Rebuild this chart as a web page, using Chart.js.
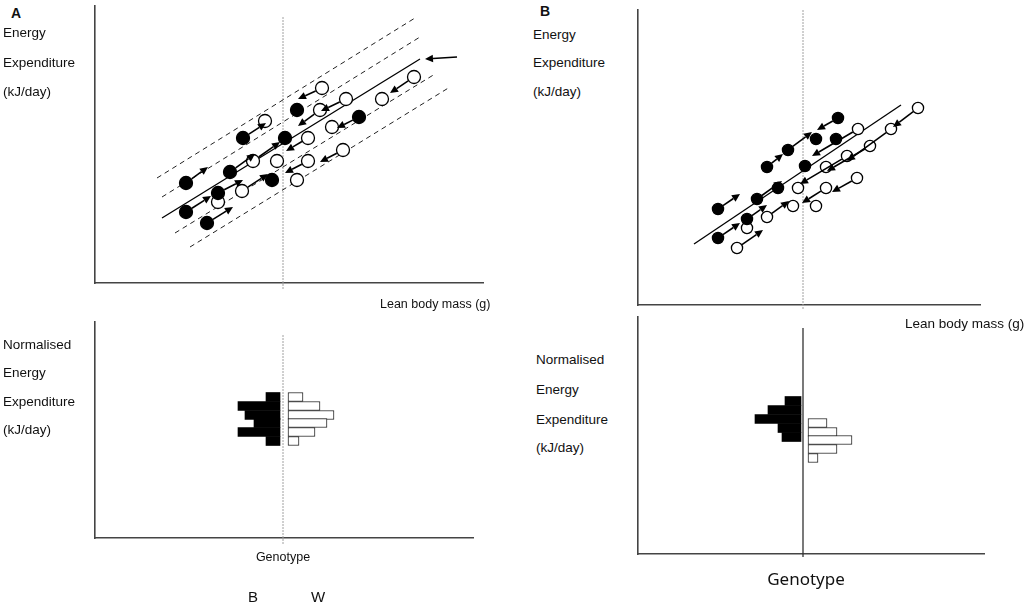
<!DOCTYPE html>
<html>
<head>
<meta charset="utf-8">
<script src="https://cdn.jsdelivr.net/npm/chart.js@4.4.0/dist/chart.umd.min.js"></script>
<style>
  body { margin: 0; background: #fff; }
  #page { position: relative; width: 1028px; height: 606px; overflow: hidden; font-family: "Liberation Sans", Arial, sans-serif; color: #111; }
  canvas { position: absolute; }
  .t { position: absolute; font-size: 13.5px; line-height: 1; white-space: nowrap; }
  .big { font-weight: bold; font-size: 14px; }
  .c { transform: translateX(-50%); }
</style>
</head>
<body>
<div id="page">
  <canvas id="aTop"></canvas>
  <canvas id="aBot"></canvas>
  <canvas id="bTop"></canvas>
  <canvas id="bBot"></canvas>

  <div class="t big" style="left:11px; top:6px;">A</div>
  <div class="t" style="left:3px; top:26px;">Energy</div>
  <div class="t" style="left:3px; top:56px;">Expenditure</div>
  <div class="t" style="left:3px; top:85px;">(kJ/day)</div>
  <div class="t" style="left:380px; top:298px; font-size:12.5px;">Lean body mass (g)</div>
  <div class="t" style="left:3px; top:338px;">Normalised</div>
  <div class="t" style="left:3px; top:366px;">Energy</div>
  <div class="t" style="left:3px; top:395px;">Expenditure</div>
  <div class="t" style="left:3px; top:423px;">(kJ/day)</div>
  <div class="t c" style="left:283px; top:551px; font-size:12.5px;">Genotype</div>
  <div class="t c" style="left:253px; top:589px; font-size:15px;">B</div>
  <div class="t c" style="left:318px; top:589px; font-size:15px;">W</div>

  <div class="t big" style="left:540px; top:4px;">B</div>
  <div class="t" style="left:533px; top:28px;">Energy</div>
  <div class="t" style="left:533px; top:56px;">Expenditure</div>
  <div class="t" style="left:533px; top:85px;">(kJ/day)</div>
  <div class="t" style="left:905px; top:317px;">Lean body mass (g)</div>
  <div class="t" style="left:536px; top:353px;">Normalised</div>
  <div class="t" style="left:536px; top:383px;">Energy</div>
  <div class="t" style="left:536px; top:413px;">Expenditure</div>
  <div class="t" style="left:536px; top:441px;">(kJ/day)</div>
  <div class="t c" style="left:806px; top:570px; font-family:'Noto Sans', sans-serif; font-size:17px;">Genotype</div>
</div>

<script>
// ---- panel A: energy expenditure vs lean body mass ----
const blackA_x = [9.1, 9.1, 11.2, 12.3, 13.5, 14.8, 17.7, 19.0, 20.2, 26.4];
const blackA_y = [10.0, 7.1, 6.0, 9.0, 11.1, 14.5, 10.3, 14.5, 17.3, 16.6];
const whiteA_x = [17.0, 22.7, 22.5, 25.1, 28.7, 31.9, 23.7, 21.3, 15.8, 18.2, 21.3, 24.8, 20.2, 14.7, 12.3];
const whiteA_y = [16.2, 19.5, 17.3, 18.4, 18.4, 20.6, 15.6, 14.5, 12.2, 12.2, 12.2, 13.3, 10.3, 9.2, 8.1];
const fitA = [[6.7, 6.5], [32.5, 22.4]];
const bandsA = [
  [[6.2, 10.5], [32.0, 26.5]],
  [[6.7, 8.6], [32.5, 24.6]],
  [[8.0, 5.0], [34.0, 20.9]],
  [[9.5, 3.6], [35.5, 19.6]]
];
const arrowsA = [
  [9.1, 10.0, 11.3, 11.6], [9.1, 7.1, 11.6, 8.7], [11.2, 6.0, 13.8, 7.6],
  [12.3, 9.0, 14.8, 10.3], [13.5, 11.1, 16.0, 12.9], [14.8, 14.5, 17.1, 16.0],
  [15.8, 12.2, 18.5, 14.1], [14.7, 9.2, 17.3, 10.9],
  [22.7, 19.5, 20.3, 18.4], [25.1, 18.4, 22.6, 17.2], [22.5, 17.3, 20.3, 15.7],
  [26.4, 16.6, 24.2, 15.5], [31.9, 20.6, 29.5, 19.0], [21.3, 14.5, 19.1, 13.2],
  [24.8, 13.3, 22.5, 12.1], [21.3, 12.2, 19.0, 11.0]
];
const pointerA = [[36.2, 22.6, 33.0, 22.4]];
const genotypeA = 18.8;

// panel A histogram (normalised EE by genotype)
const binsA = [14.1, 13.2, 12.3, 11.5, 10.6, 9.7];
const blackA_from = [17.1, 14.3, 15.0, 15.9, 14.3, 17.1];
const whiteA_to = [20.8, 22.5, 23.9, 23.2, 22.0, 20.4];
const blackA_edge = 18.5, whiteA_edge = 19.3;

// ---- panel B ----
const blackB_x = [8.0, 8.0, 10.9, 11.9, 14.0, 12.9, 15.0, 16.7, 17.8, 19.8, 20.0];
const blackB_y = [9.6, 6.7, 8.6, 10.6, 11.7, 13.8, 15.5, 13.9, 16.6, 16.6, 18.7];
const whiteB_x = [9.9, 10.9, 12.9, 15.5, 17.8, 16.0, 18.8, 21.9, 18.8, 20.9, 23.2, 25.3, 22.0, 28.0];
const whiteB_y = [5.7, 7.7, 8.8, 9.9, 9.9, 11.7, 11.7, 12.7, 13.8, 14.9, 15.9, 17.6, 17.6, 19.7];
const fitB = [[5.6, 6.1], [26.3, 20.0]];
const arrowsB = [
  [8.0, 9.6, 10.2, 11.1], [8.0, 6.7, 10.2, 8.2], [9.9, 5.7, 12.5, 7.5],
  [10.9, 8.6, 12.9, 10.0], [11.9, 10.6, 14.4, 12.4], [12.9, 8.8, 15.1, 10.4],
  [12.9, 13.8, 14.5, 15.1], [15.0, 15.5, 17.4, 17.3],
  [20.0, 18.7, 17.9, 17.5], [22.0, 17.6, 17.4, 14.9], [28.0, 19.7, 25.5, 17.8],
  [25.3, 17.6, 20.9, 14.4], [23.2, 15.9, 18.9, 13.4], [20.9, 14.9, 16.2, 12.1],
  [21.9, 12.7, 19.4, 11.3], [18.8, 11.7, 16.4, 10.2]
];
const genotypeB = 16.5;

const binsB_black = [15.3, 14.4, 13.5, 12.6, 11.7];
const blackB_from = [14.7, 13.0, 11.7, 14.0, 14.4];
const binsB_white = [13.1, 12.2, 11.4, 10.5, 9.6];
const whiteB_to = [18.9, 19.9, 21.4, 19.9, 18.0];
const blackB_edge = 16.3, whiteB_edge = 17.0;

// ---- helpers ----
const PAD = 24;
const pts = (xs, ys) => xs.map((x, i) => ({ x, y: ys[i] }));
const seg = (a, b) => [{ x: a[0], y: a[1] }, { x: b[0], y: b[1] }];

// arrows drawn through the chart scales
const arrowPlugin = {
  id: 'arrows',
  afterDatasetsDraw(chart, args, opts) {
    const sets = opts.sets || [];
    const { ctx, scales: { x, y } } = chart;
    ctx.save();
    ctx.strokeStyle = '#000';
    ctx.fillStyle = '#000';
    ctx.lineWidth = 1.6;
    sets.forEach(s => {
      s.items.forEach(a => {
        let x0 = x.getPixelForValue(a[0]), y0 = y.getPixelForValue(a[1]);
        const x1 = x.getPixelForValue(a[2]), y1 = y.getPixelForValue(a[3]);
        const ang = Math.atan2(y1 - y0, x1 - x0);
        x0 += Math.cos(ang) * s.gap;
        y0 += Math.sin(ang) * s.gap;
        const hl = 8, hw = 3.8;
        const bx = x1 - Math.cos(ang) * hl, by = y1 - Math.sin(ang) * hl;
        ctx.beginPath();
        ctx.moveTo(x0, y0);
        ctx.lineTo(bx, by);
        ctx.stroke();
        ctx.beginPath();
        ctx.moveTo(x1, y1);
        ctx.lineTo(bx - Math.sin(ang) * hw, by + Math.cos(ang) * hw);
        ctx.lineTo(bx + Math.sin(ang) * hw, by - Math.cos(ang) * hw);
        ctx.closePath();
        ctx.fill();
      });
    });
    ctx.restore();
  }
};
Chart.register(arrowPlugin);

function axis(max, color) {
  return {
    type: 'linear', min: 0, max, offset: false,
    grid: { display: false, drawTicks: false },
    ticks: { display: false },
    border: { display: true, color, width: 1.6 }
  };
}

function place(id, box) {
  const cv = document.getElementById(id);
  cv.width = box.right - box.left + 2 * PAD;
  cv.height = box.bottom - box.top + 2 * PAD;
  cv.style.left = (box.left - PAD) + 'px';
  cv.style.top = (box.top - PAD) + 'px';
  return cv;
}

function baseOptions(xMax, yMax, color, arrowSets) {
  return {
    responsive: false,
    animation: false,
    devicePixelRatio: 1,
    layout: { padding: PAD },
    scales: { x: axis(xMax, color), y: axis(yMax, color) },
    plugins: { legend: { display: false }, tooltip: { enabled: false }, arrows: { sets: arrowSets } }
  };
}

function lineSet(data, color, width, dash) {
  return { type: 'line', data, showLine: true, borderColor: color, borderWidth: width, borderDash: dash,
           pointRadius: 0, fill: false, clip: false };
}

function dotSet(data, fill, r) {
  return { type: 'scatter', data, pointRadius: r, pointBackgroundColor: fill, pointBorderColor: '#000',
           pointBorderWidth: 1.3, clip: false };
}

function scatterPanel(id, box, xMax, yMax, black, white, r, lines, geno, arrowSets) {
  place(id, box);
  new Chart(document.getElementById(id), {
    type: 'scatter',
    data: { datasets: [dotSet(black, '#000', r), dotSet(white, '#fff', r), ...lines, geno] },
    options: baseOptions(xMax, yMax, '#444', arrowSets)
  });
}

function histPanel(id, box, xMax, yMax, blackBars, whiteBars, geno) {
  place(id, box);
  new Chart(document.getElementById(id), {
    type: 'bar',
    data: {
      datasets: [
        { type: 'bar', indexAxis: 'y', data: blackBars, backgroundColor: '#000', borderWidth: 0,
          barThickness: 9, grouped: false },
        { type: 'bar', indexAxis: 'y', data: whiteBars, backgroundColor: '#fff', borderColor: '#222',
          borderWidth: 1, borderSkipped: false, barThickness: 9, grouped: false },
        geno
      ]
    },
    options: baseOptions(xMax, yMax, '#444', [])
  });
}

// ---- panel A ----
scatterPanel('aTop', { left: 95, top: 6, right: 483, bottom: 283 }, 38.8, 27.7,
  pts(blackA_x, blackA_y), pts(whiteA_x, whiteA_y), 6.5,
  [lineSet(seg(fitA[0], fitA[1]), '#000', 1.3, [])]
    .concat(bandsA.map(b => lineSet(seg(b[0], b[1]), '#222', 1, [5, 4]))),
  lineSet(seg([genotypeA, 26.6], [genotypeA, -0.7]), '#a0a0a0', 1, [2, 1]),
  [{ items: arrowsA, gap: 7 }, { items: pointerA, gap: 0 }]);

histPanel('aBot', { left: 95, top: 322, right: 473, bottom: 538 }, 37.8, 21.6,
  binsA.map((c, i) => ({ x: [blackA_from[i], blackA_edge], y: c })),
  binsA.map((c, i) => ({ x: [whiteA_edge, whiteA_to[i]], y: c })),
  lineSet(seg([genotypeA, 20.3], [genotypeA, -0.7]), '#a0a0a0', 1, [2, 1]));

// ---- panel B ----
scatterPanel('bTop', { left: 638, top: 10, right: 980, bottom: 305 }, 34.2, 29.5,
  pts(blackB_x, blackB_y), pts(whiteB_x, whiteB_y), 5.6,
  [lineSet(seg(fitB[0], fitB[1]), '#000', 1.3, [])],
  lineSet(seg([genotypeB, 29.5], [genotypeB, -0.5]), '#a0a0a0', 1, [2, 1]),
  [{ items: arrowsB, gap: 6 }]);

histPanel('bBot', { left: 638, top: 317, right: 984, bottom: 554 }, 34.6, 23.7,
  binsB_black.map((c, i) => ({ x: [blackB_from[i], blackB_edge], y: c })),
  binsB_white.map((c, i) => ({ x: [whiteB_edge, whiteB_to[i]], y: c })),
  lineSet(seg([genotypeB, 22.6], [genotypeB, -0.3]), '#333', 1.3, []));
</script>
</body>
</html>
